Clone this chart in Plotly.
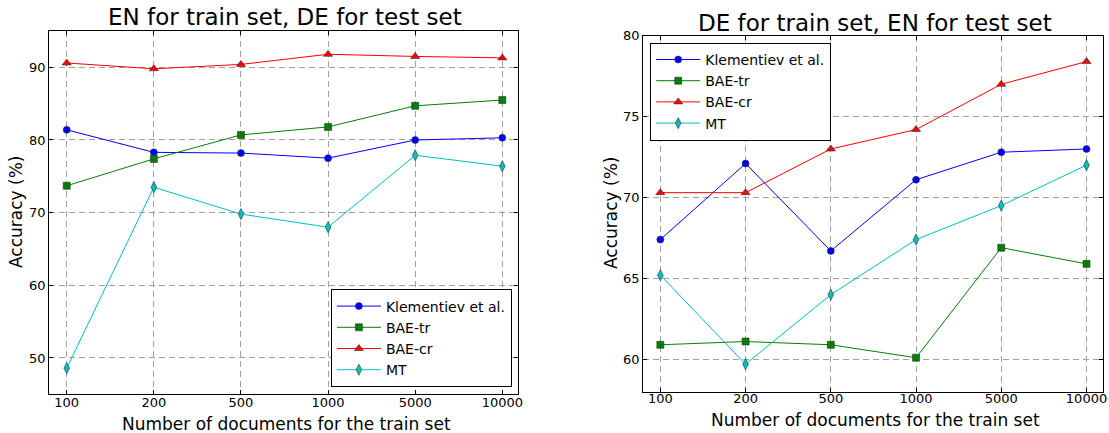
import plotly.graph_objects as go

categories = ["100", "200", "500", "1000", "5000", "10000"]
series_names = ["Klementiev et al.", "BAE-tr", "BAE-cr", "MT"]

# Left: EN train, DE test
left_klementiev = [81.4, 78.3, 78.2, 77.5, 80.0, 80.3]
left_bae_tr = [73.7, 77.4, 80.7, 81.8, 84.7, 85.5]
left_bae_cr = [90.6, 89.8, 90.4, 91.8, 91.5, 91.3]
left_mt = [48.6, 73.5, 69.8, 68.0, 77.9, 76.4]

# Right: DE train, EN test
right_klementiev = [67.4, 72.1, 66.7, 71.1, 72.8, 73.0]
right_bae_tr = [60.9, 61.1, 60.9, 60.1, 66.9, 65.9]
right_bae_cr = [70.3, 70.3, 73.0, 74.2, 77.0, 78.4]
right_mt = [65.2, 59.7, 64.0, 67.4, 69.5, 72.0]

left_y_ticks = [50, 60, 70, 80, 90]
right_y_ticks = [60, 65, 70, 75, 80]

styles = [
    dict(color="#0000ff", symbol="circle", size=7),
    dict(color="#008000", symbol="square", size=7),
    dict(color="#ff0000", symbol="triangle-up", size=8),
    dict(color="#00bfbf", symbol="diamond-tall", size=8),
]

W, H = 1109, 433
FONT = "DejaVu Sans"

fig = go.Figure()

left_data = [left_klementiev, left_bae_tr, left_bae_cr, left_mt]
right_data = [right_klementiev, right_bae_tr, right_bae_cr, right_mt]

for name, vals, st in zip(series_names, left_data, styles):
    fig.add_trace(go.Scatter(
        x=categories, y=vals, name=name, mode="lines+markers",
        xaxis="x", yaxis="y", legend="legend",
        line=dict(color=st["color"], width=1),
        marker=dict(color=st["color"], symbol=st["symbol"], size=st["size"],
                    line=dict(color="#333333", width=0.6)),
    ))
for name, vals, st in zip(series_names, right_data, styles):
    fig.add_trace(go.Scatter(
        x=categories, y=vals, name=name, mode="lines+markers",
        xaxis="x2", yaxis="y2", legend="legend2",
        line=dict(color=st["color"], width=1),
        marker=dict(color=st["color"], symbol=st["symbol"], size=st["size"],
                    line=dict(color="#333333", width=0.6)),
    ))

def px_x(p):
    return p / W

def px_y(p):
    return 1 - p / H

axis_common = dict(
    showline=True, linecolor="black", linewidth=1.3, mirror="allticks",
    ticks="inside", ticklen=4, tickcolor="black",
    showgrid=True, gridcolor="#a0a0a0", griddash="6px,4px", gridwidth=1,
    zeroline=False, automargin=False,
    tickfont=dict(family=FONT, size=13, color="black"),
)

def ann(text, x, y, size, angle=0):
    return dict(text=text, x=px_x(x), y=px_y(y), xref="paper", yref="paper",
                xanchor="center", yanchor="middle", textangle=angle,
                showarrow=False, font=dict(family=FONT, size=size, color="black"))

legend_common = dict(
    bgcolor="white", bordercolor="black", borderwidth=1.2,
    font=dict(family=FONT, size=14, color="black"),
    tracegroupgap=0, itemwidth=44,
)

fig.update_layout(
    width=W, height=H,
    margin=dict(l=0, r=0, t=0, b=0),
    paper_bgcolor="white", plot_bgcolor="white",
    font=dict(family=FONT, color="black"),
    xaxis=dict(axis_common, domain=[px_x(49.3), px_x(518)], type="category",
               range=[-0.2, 5.18], anchor="y", ticklabelstandoff=-4),
    yaxis=dict(axis_common, domain=[px_y(394.3), px_y(31)], range=[45, 95],
               tickvals=left_y_ticks, anchor="x"),
    xaxis2=dict(axis_common, domain=[px_x(643.3), px_x(1102.7)], type="category",
                range=[-0.2, 5.19], anchor="y2", ticklabelstandoff=-5),
    yaxis2=dict(axis_common, domain=[px_y(391.7), px_y(35.7)], range=[58, 80],
                tickvals=right_y_ticks, anchor="x2"),
    legend=dict(legend_common, x=px_x(511.7), y=px_y(387.3),
                xanchor="right", yanchor="bottom"),
    legend2=dict(legend_common, x=px_x(650), y=px_y(42.7),
                 xanchor="left", yanchor="top"),
    annotations=[
        ann("EN for train set, DE for test set", 285, 17, 23),
        ann("DE for train set, EN for test set", 875, 23, 23),
        ann("Number of documents for the train set", 286, 424, 17),
        ann("Number of documents for the train set", 875, 420, 17),
        ann("Accuracy (%)", 16, 212, 17, -90),
        ann("Accuracy (%)", 611, 213, 17, -90),
    ],
)

fig.write_html("out.html", config={"displayModeBar": False},
               post_script="document.body.style.margin='0px';")
